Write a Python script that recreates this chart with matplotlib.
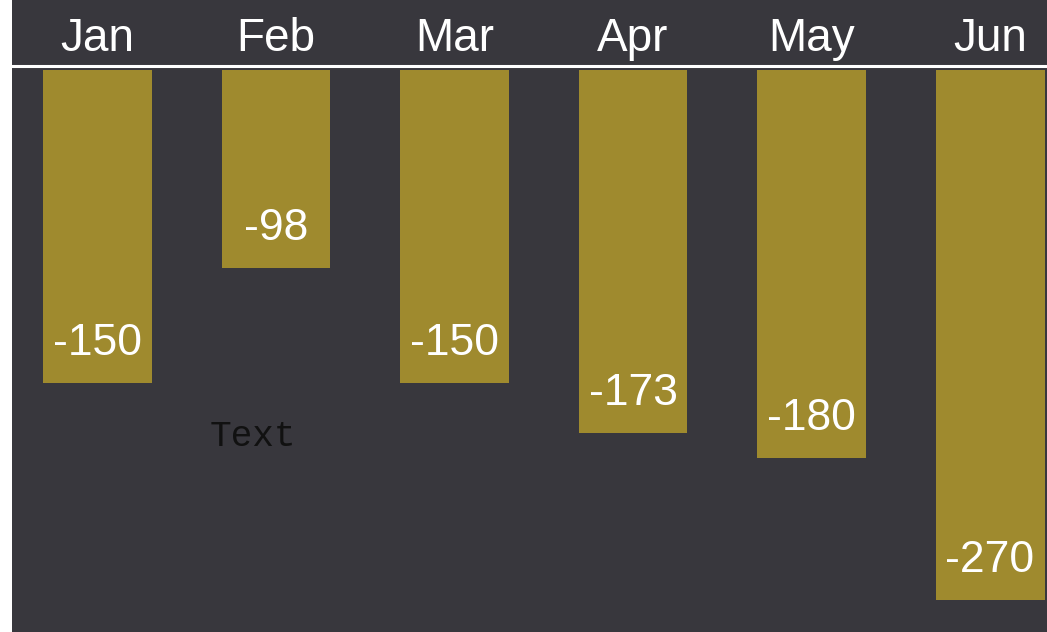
"""
Monthly bars hanging from a header line (scanned chart remake)
"""
import matplotlib
matplotlib.use('Agg')
import matplotlib.pyplot as plt

# Data
months = ['Jan', 'Feb', 'Mar', 'Apr', 'May', 'Jun']
values = [-150, -98, -150, -173, -180, -270]
# drawn bar lengths in the scan (same units, Jan = 150); the scan is not to scale
bar_depth = [150, 95, 150, 174, 186, 254]

note_text = 'Text'

bg_color = '#38373d'
bar_color = '#9f8a2e'

fig = plt.figure(figsize=(10.47, 6.32), dpi=100, facecolor='white')
ax = fig.add_axes([12 / 1047, 0, 1 - 12 / 1047, 1])
ax.set_facecolor(bg_color)

x = list(range(len(months)))
ax.bar(x, [-d for d in bar_depth], width=0.61, bottom=0, color=bar_color,
       edgecolor='none', align='center', zorder=2)

ax.set_xlim(-0.479, 5.319)
ax.set_ylim(-269.3, 33.5)

# header line and month names
ax.axhline(1.9, color='white', linewidth=2.2, zorder=3)
for xi, m in zip(x, months):
    ax.text(xi, 9.1, m, ha='center', va='baseline', color='white',
            fontsize=33, family='Liberation Sans', zorder=4)

# value labels near the bottom of each bar
for xi, d, v in zip(x, bar_depth, values):
    ax.text(xi, -d + 19, f'{v}', ha='center', va='center', color='white',
            fontsize=32, family='Liberation Sans', zorder=4)

# stray placeholder text
ax.text(0.63, -175.5, note_text, ha='left', va='center', color='#111111',
        fontsize=26, family='Liberation Mono', zorder=4)

for s in ax.spines.values():
    s.set_visible(False)
ax.set_xticks([])
ax.set_yticks([])

fig.savefig('out.png', dpi=100, facecolor=fig.get_facecolor())
